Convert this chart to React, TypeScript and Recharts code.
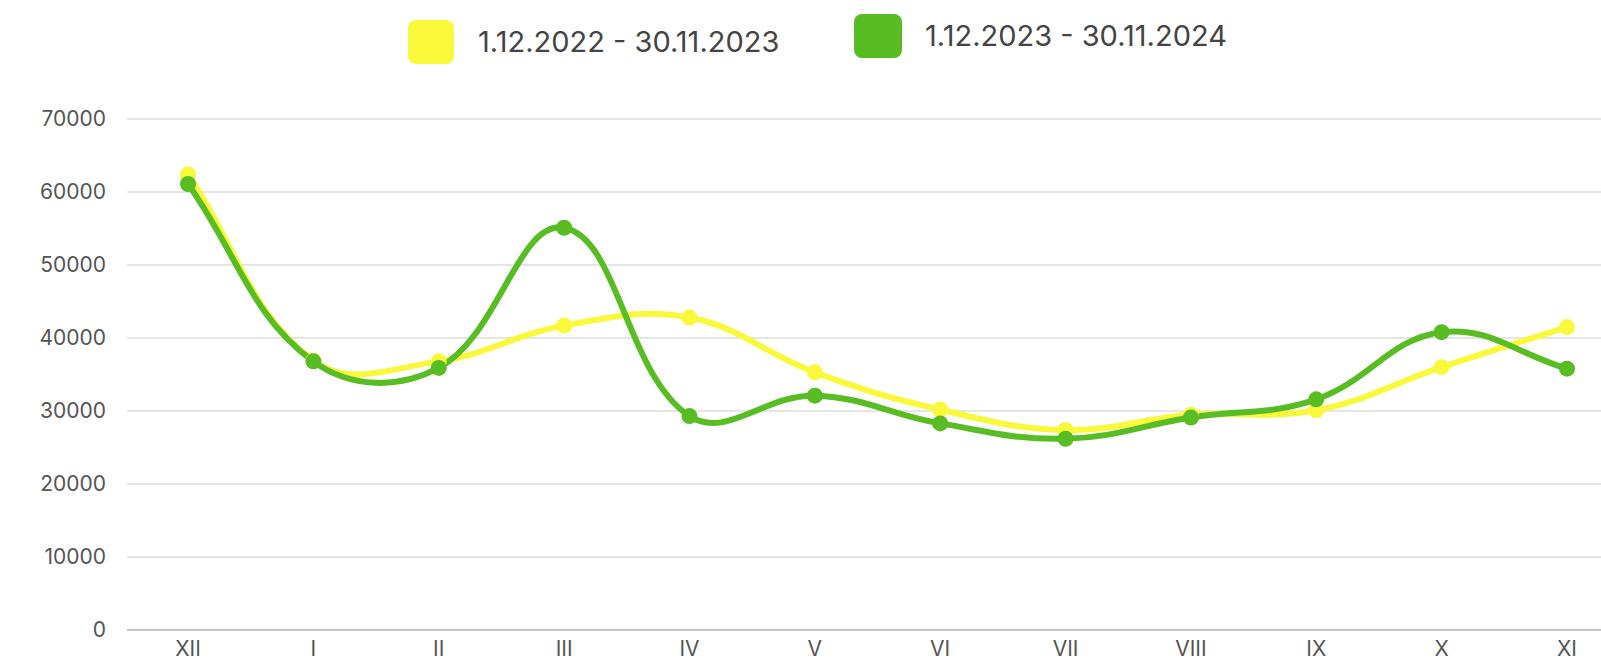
import React from 'react';
import { LineChart, Line, XAxis, YAxis, CartesianGrid, Legend } from 'recharts';

const months = ['XII', 'I', 'II', 'III', 'IV', 'V', 'VI', 'VII', 'VIII', 'IX', 'X', 'XI'];
const prevYear = [62400, 36900, 36800, 41700, 42800, 35300, 30200, 27400, 29500, 30100, 36000, 41500];
const currYear = [61100, 36800, 35900, 55100, 29300, 32100, 28300, 26200, 29100, 31600, 40800, 35800];
const yTicks = [0, 10000, 20000, 30000, 40000, 50000, 60000, 70000];

const seriesNames = ['1.12.2022 - 30.11.2023', '1.12.2023 - 30.11.2024'];
const YELLOW = '#f9f83b';
const GREEN = '#57bd22';
const FONT = 'Inter, "Open Sans", sans-serif';

const data = months.map((m, i) => ({ month: m, prev: prevYear[i], curr: currYear[i] }));

// spline like chart.js (tension 0.4)
const splineCurve = (ctx: any) => {
  let pts: [number, number][] = [];
  const tension = 0.4;
  return {
    areaStart() {},
    areaEnd() {},
    lineStart() {
      pts = [];
    },
    point(x: number, y: number) {
      pts.push([+x, +y]);
    },
    lineEnd() {
      if (!pts.length) return;
      const cps = pts.map((cur, i) => {
        const prev = pts[i - 1] || cur;
        const next = pts[i + 1] || cur;
        const d01 = Math.hypot(cur[0] - prev[0], cur[1] - prev[1]);
        const d12 = Math.hypot(next[0] - cur[0], next[1] - cur[1]);
        let s01 = d01 / (d01 + d12);
        let s12 = d12 / (d01 + d12);
        if (isNaN(s01)) s01 = 0;
        if (isNaN(s12)) s12 = 0;
        const fa = tension * s01;
        const fb = tension * s12;
        return {
          before: [cur[0] - fa * (next[0] - prev[0]), cur[1] - fa * (next[1] - prev[1])],
          after: [cur[0] + fb * (next[0] - prev[0]), cur[1] + fb * (next[1] - prev[1])],
        };
      });
      ctx.moveTo(pts[0][0], pts[0][1]);
      for (let i = 1; i < pts.length; i++) {
        const a = cps[i - 1].after;
        const b = cps[i].before;
        ctx.bezierCurveTo(a[0], a[1], b[0], b[1], pts[i][0], pts[i][1]);
      }
    },
  };
};

const LegendBox = () => (
  <div style={{ position: 'relative', width: 1601, height: 90, fontFamily: FONT, color: '#444', fontSize: 29 }}>
    <div style={{ position: 'absolute', left: 408, top: 20, width: 46, height: 44, borderRadius: 8, background: YELLOW }} />
    <div style={{ position: 'absolute', left: 478, top: 22, lineHeight: '40px', whiteSpace: 'nowrap' }}>{seriesNames[0]}</div>
    <div style={{ position: 'absolute', left: 854, top: 14, width: 48, height: 44, borderRadius: 8, background: GREEN }} />
    <div style={{ position: 'absolute', left: 925, top: 16, lineHeight: '40px', whiteSpace: 'nowrap' }}>{seriesNames[1]}</div>
  </div>
);

export default function App() {
  return (
    <div style={{ position: 'absolute', left: 0, top: 0, width: 1601, height: 662, overflow: 'hidden', background: '#fff' }}>
      <LineChart width={1601} height={680} data={data} margin={{ top: 29, right: 0, bottom: 0, left: 0 }}>
        <Legend
          verticalAlign="top"
          content={() => <LegendBox />}
          wrapperStyle={{ top: 0, left: 0, width: 1601, height: 90 }}
        />
        <CartesianGrid vertical={false} stroke="#dcdcdc" strokeWidth={1.3} />
        <XAxis
          dataKey="month"
          height={50}
          padding={{ left: 61, right: 34 }}
          axisLine={{ stroke: '#c4c4c4', strokeWidth: 2 }}
          tickLine={false}
          tickSize={0}
          tickMargin={11}
          interval={0}
          tick={{ fill: '#555', fontSize: 21, fontFamily: FONT }}
        />
        <YAxis
          width={127}
          domain={[0, 70000]}
          ticks={yTicks}
          axisLine={false}
          tickLine={false}
          tickSize={0}
          tickMargin={21}
          tick={{ fill: '#555', fontSize: 21, fontFamily: FONT }}
        />
        <Line
          dataKey="prev"
          name={seriesNames[0]}
          type={splineCurve as any}
          stroke={YELLOW}
          strokeWidth={6}
          dot={{ r: 8, fill: YELLOW, stroke: 'none' }}
          activeDot={false}
          isAnimationActive={false}
        />
        <Line
          dataKey="curr"
          name={seriesNames[1]}
          type={splineCurve as any}
          stroke={GREEN}
          strokeWidth={6}
          dot={{ r: 8, fill: GREEN, stroke: 'none' }}
          activeDot={false}
          isAnimationActive={false}
        />
      </LineChart>
    </div>
  );
}
